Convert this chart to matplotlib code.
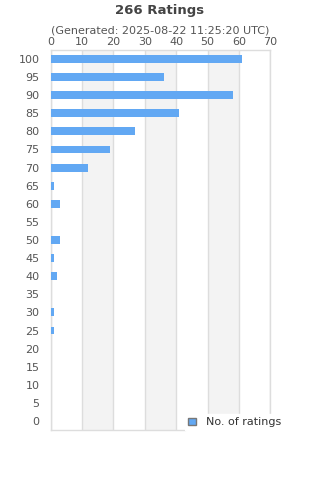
import matplotlib
matplotlib.use("Agg")
import matplotlib.pyplot as plt
from matplotlib.patches import Patch

# ratings (0..100 step 5) and their counts
scores = [0, 5, 10, 15, 20, 25, 30, 35, 40, 45, 50, 55, 60, 65, 70, 75, 80, 85, 90, 95, 100]
counts = [0, 0, 0, 0, 0, 1, 1, 0, 2, 1, 3, 0, 3, 1, 12, 19, 27, 41, 58, 36, 61]
x_ticks = [0, 10, 20, 30, 40, 50, 60, 70]

bar_color = "#62a8f3"
text_color = "#555555"
grid_color = "#dddddd"

fig = plt.figure(figsize=(3.2, 4.8), dpi=100)
ax = fig.add_axes([0.158, 0.104, 0.687, 0.792])

pos = list(range(len(scores)))
ax.barh(pos, counts, height=0.44, color=bar_color, zorder=3)

# alternating bands
for i in range(len(x_ticks) - 1):
    if i % 2 == 1:
        ax.axvspan(x_ticks[i], x_ticks[i + 1], color="#f3f3f3", zorder=0, lw=0)

ax.set_xlim(0, 70)
ax.set_ylim(-0.5, len(scores) - 0.5)
ax.set_xticks(x_ticks)
ax.set_yticks(pos)
ax.set_yticklabels([str(s) for s in scores])
ax.xaxis.tick_top()
ax.tick_params(axis="both", length=0, labelsize=8, colors=text_color, pad=2)
ax.tick_params(axis="y", pad=8)
ax.grid(axis="x", color=grid_color, lw=1, zorder=1)
for s in ax.spines.values():
    s.set_color(grid_color)
    s.set_linewidth(1)

fig.text(0.5, 0.978, "266 Ratings", ha="center", va="center", fontsize=9.5,
         fontweight="bold", color="#444444")
fig.text(0.5, 0.937, "(Generated: 2025-08-22 11:25:20 UTC)", ha="center", va="center",
         fontsize=8, color=text_color)

handle = Patch(facecolor=bar_color, edgecolor="#777777", lw=1)
leg = fig.legend([handle], ["No. of ratings"], loc="center left",
                 bbox_to_anchor=(0.56, 0.12), frameon=True, fontsize=8,
                 handlelength=0.7, handleheight=0.7, handletextpad=0.9,
                 borderpad=0.3)
leg.get_frame().set_edgecolor("white")
leg.get_frame().set_facecolor("white")
leg.get_frame().set_alpha(1)
for t in leg.get_texts():
    t.set_color("#333333")

fig.savefig("out.png", dpi=100)
